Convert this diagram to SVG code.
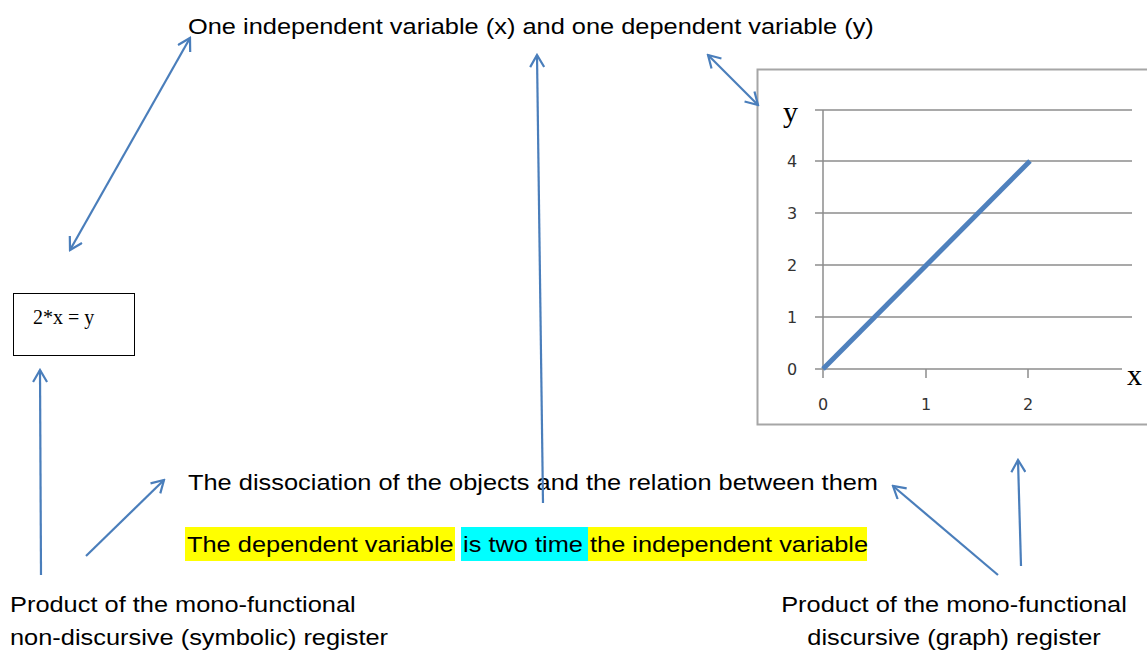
<svg xmlns="http://www.w3.org/2000/svg" width="1147" height="652" viewBox="0 0 1147 652">
<style>
.t{font-family:"Liberation Sans",Arial,sans-serif;font-size:22px;fill:#000}
.m{text-anchor:middle}
.c{stroke:#4A7EBB;stroke-width:2.2;fill:none;marker-end:url(#ah)}
.d{marker-start:url(#ah)}
.g{stroke:#8C8C8C;stroke-width:1.5}
.tk{font-family:"DejaVu Sans",sans-serif;font-size:16px;fill:#333;text-anchor:middle}
</style>
<defs>
<marker id="ah" viewBox="0 0 16 16" refX="14" refY="8" markerWidth="16" markerHeight="16" markerUnits="userSpaceOnUse" orient="auto-start-reverse">
<path d="M2,1 L14,8 L2,15" fill="none" stroke="#4A7EBB" stroke-width="2.2"/>
</marker>
</defs>
<rect width="1147" height="652" fill="#fff"/>
<g id="top-label"><text class="t" transform="translate(188,34) scale(1.154,1)">One independent variable (x) and one dependent variable (y)</text></g>
<g id="equation">
<rect x="13.5" y="293.5" width="121" height="62" fill="#fff" stroke="#000" stroke-width="1"/>
<text x="33" y="324" font-family="Liberation Serif,serif" font-size="20">2*x = y</text>
</g>
<g id="graph">
<path d="M1147,69.5 H757.5 V424.5 H1147" fill="#fff" stroke="#A6A6A6" stroke-width="2"/>
<g class="g">
<line x1="815" y1="110" x2="1132" y2="110"/>
<line x1="815" y1="161" x2="1132" y2="161"/>
<line x1="815" y1="213" x2="1132" y2="213"/>
<line x1="815" y1="265" x2="1132" y2="265"/>
<line x1="815" y1="317" x2="1132" y2="317"/>
<line x1="815" y1="369" x2="1122" y2="369"/>
<line x1="823" y1="110" x2="823" y2="378"/>
<line x1="926" y1="369" x2="926" y2="378"/>
<line x1="1028" y1="369" x2="1028" y2="378"/>
</g>
<text class="tk" x="792" y="375">0</text>
<text class="tk" x="792" y="323">1</text>
<text class="tk" x="792" y="271">2</text>
<text class="tk" x="792" y="219">3</text>
<text class="tk" x="792" y="167">4</text>
<text class="tk" x="823" y="410">0</text>
<text class="tk" x="926" y="410">1</text>
<text class="tk" x="1028" y="410">2</text>
<text x="783" y="122" font-family="Liberation Serif,serif" font-size="30">y</text>
<text x="1127" y="385" font-family="Liberation Serif,serif" font-size="30">x</text>
<line x1="823" y1="369" x2="1030" y2="161" stroke="#4F81BD" stroke-width="5"/>
</g>
<g id="dissociation"><text class="t" transform="translate(188,490) scale(1.154,1)">The dissociation of the objects and the relation between them</text></g>
<g id="relation">
<rect x="185" y="527" width="270" height="34" fill="#FFFF00"/>
<rect x="461" y="527" width="127" height="34" fill="#00FFFF"/>
<rect x="588" y="527" width="279" height="34" fill="#FFFF00"/>
<text class="t" transform="translate(187,552) scale(1.154,1)">The dependent variable</text>
<text class="t" transform="translate(463,552) scale(1.154,1)">is two time</text>
<text class="t" transform="translate(590,552) scale(1.154,1)">the independent variable</text>
</g>
<g id="symbolic-label"><text class="t" transform="translate(10,612) scale(1.154,1)">Product of the mono-functional</text><text class="t" transform="translate(10,645) scale(1.154,1)">non-discursive (symbolic) register</text></g>
<g id="graph-label"><text class="t m" transform="translate(954,612) scale(1.154,1)">Product of the mono-functional</text><text class="t m" transform="translate(954,645) scale(1.154,1)">discursive (graph) register</text></g>
<g id="connectors">
<line class="c d" x1="70" y1="250" x2="190" y2="38"/>
<line class="c" x1="543" y1="503" x2="537" y2="55"/>
<line class="c d" x1="708" y1="55" x2="758" y2="105"/>
<line class="c" x1="41" y1="575" x2="40" y2="370"/>
<line class="c" x1="86" y1="556" x2="164" y2="480"/>
<line class="c" x1="998" y1="575" x2="893" y2="486"/>
<line class="c" x1="1021" y1="566" x2="1018" y2="460"/>
</g>
</svg>
